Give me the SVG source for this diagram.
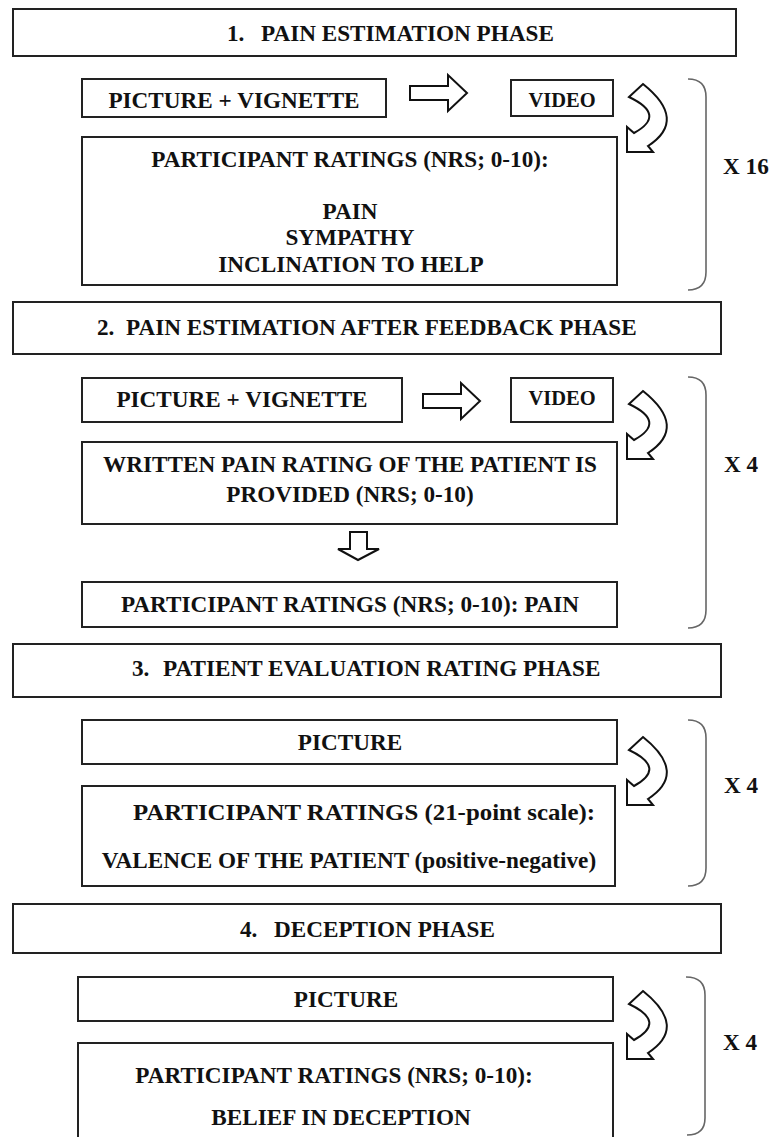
<svg xmlns="http://www.w3.org/2000/svg" xmlns:xlink="http://www.w3.org/1999/xlink" width="772" height="1137" viewBox="0 0 772 1137">
<style>
.box{fill:#fff;stroke:#222;stroke-width:2}
.t{font-family:"Liberation Serif","Times New Roman",serif;font-weight:bold;font-size:23.2px;fill:#111}
.c{text-anchor:middle}
.v{font-size:20.5px}
.arr{fill:#fff;stroke:#111;stroke-width:2;stroke-linejoin:miter}
.br{fill:none;stroke:#666;stroke-width:1.6}
</style>
<defs>
<path id="curved" d="M 627 152 L 627 127 L 634 133 Q 667 115 629 97 L 643 84 Q 688 120 648 146 L 653 152 Z"/>
<path id="right" d="M 0 -7 L 38 -7 L 38 -18 L 57 0 L 38 18 L 38 7 L 0 7 Z"/>
</defs>
<rect width="772" height="1137" fill="#fff"/>

<!-- Section 1 -->
<g id="title1"><rect class="box" x="13" y="9" width="723" height="47"/><text class="t" y="41"><tspan x="227">1.</tspan><tspan x="261">PAIN ESTIMATION PHASE</tspan></text></g>
<g id="s1_picture"><rect class="box" x="82" y="79" width="304" height="38"/><text class="t c" x="234" y="108">PICTURE + VIGNETTE</text></g>
<g id="s1_video"><rect class="box" x="511" y="80" width="102" height="36"/><text class="t c v" x="562" y="107">VIDEO</text></g>
<g id="s1_ratings"><rect class="box" x="82" y="137" width="535" height="148"/>
<text class="t c" x="350" y="167">PARTICIPANT RATINGS (NRS; 0-10):</text>
<text class="t c" x="350" y="219">PAIN</text>
<text class="t c" x="350" y="245">SYMPATHY</text>
<text class="t c" x="351" y="272">INCLINATION TO HELP</text></g>
<g id="s1_repeat"><path class="br" d="M 688 79 C 700 79 706 85 706 97 L 706 272 C 706 284 700 290 688 290"/><text class="t" x="723" y="174">X 16</text></g>

<!-- Section 2 -->
<g id="title2"><rect class="box" x="13" y="302" width="708" height="52"/><text class="t" y="335"><tspan x="97">2.</tspan><tspan x="126">PAIN ESTIMATION AFTER FEEDBACK PHASE</tspan></text></g>
<g id="s2_picture"><rect class="box" x="82" y="378" width="320" height="44"/><text class="t c" x="242" y="407">PICTURE + VIGNETTE</text></g>
<g id="s2_video"><rect class="box" x="511" y="378" width="102" height="44"/><text class="t c v" x="562" y="405">VIDEO</text></g>
<g id="s2_written"><rect class="box" x="82" y="442" width="535" height="82"/>
<text class="t c" x="350" y="472">WRITTEN PAIN RATING OF THE PATIENT IS</text>
<text class="t c" x="350" y="502">PROVIDED (NRS; 0-10)</text></g>
<g id="s2_ratings"><rect class="box" x="82" y="582" width="535" height="45"/><text class="t c" x="350" y="612">PARTICIPANT RATINGS (NRS; 0-10): PAIN</text></g>
<g id="s2_repeat"><path class="br" d="M 688 377 C 700 377 706 383 706 395 L 706 610 C 706 622 700 628 688 628"/><text class="t" x="724" y="472">X 4</text></g>

<!-- Section 3 -->
<g id="title3"><rect class="box" x="13" y="644" width="708" height="53"/><text class="t" y="676"><tspan x="132">3.</tspan><tspan x="163">PATIENT EVALUATION RATING PHASE</tspan></text></g>
<g id="s3_picture"><rect class="box" x="82" y="720" width="535" height="44"/><text class="t c" x="350" y="750">PICTURE</text></g>
<g id="s3_ratings"><rect class="box" x="82" y="786" width="533" height="100"/>
<text class="t c" x="364" y="820" textLength="462" lengthAdjust="spacingAndGlyphs">PARTICIPANT RATINGS (21-point scale):</text>
<text class="t c" x="349" y="868">VALENCE OF THE PATIENT (positive-negative)</text></g>
<g id="s3_repeat"><path class="br" d="M 688 720 C 700 720 706 726 706 738 L 706 868 C 706 880 700 886 688 886"/><text class="t" x="724" y="793">X 4</text></g>

<!-- Section 4 -->
<g id="title4"><rect class="box" x="13" y="904" width="708" height="49"/><text class="t" y="937"><tspan x="240">4.</tspan><tspan x="274">DECEPTION PHASE</tspan></text></g>
<g id="s4_picture"><rect class="box" x="78" y="977" width="535" height="44"/><text class="t c" x="346" y="1007">PICTURE</text></g>
<g id="s4_ratings"><rect class="box" x="78" y="1043" width="535" height="110"/>
<text class="t c" x="334" y="1083">PARTICIPANT RATINGS (NRS; 0-10):</text>
<text class="t c" x="341" y="1125">BELIEF IN DECEPTION</text></g>
<g id="s4_repeat"><path class="br" d="M 686 977 C 698 977 705 983 705 995 L 705 1118 C 705 1129 699 1135 687 1135"/><text class="t" x="723" y="1050">X 4</text></g>

<!-- Connectors -->
<g id="connectors">
<use xlink:href="#right" class="arr" transform="translate(410,93)"/>
<use xlink:href="#curved" class="arr"/>
<use xlink:href="#right" class="arr" transform="translate(423,401)"/>
<use xlink:href="#curved" class="arr" transform="translate(0,307)"/>
<path class="arr" d="M 350 532 L 367 532 L 367 549 L 379 549 L 358 560 L 338 549 L 350 549 Z"/>
<use xlink:href="#curved" class="arr" transform="translate(0,653)"/>
<use xlink:href="#curved" class="arr" transform="translate(0,907)"/>
</g>
</svg>
